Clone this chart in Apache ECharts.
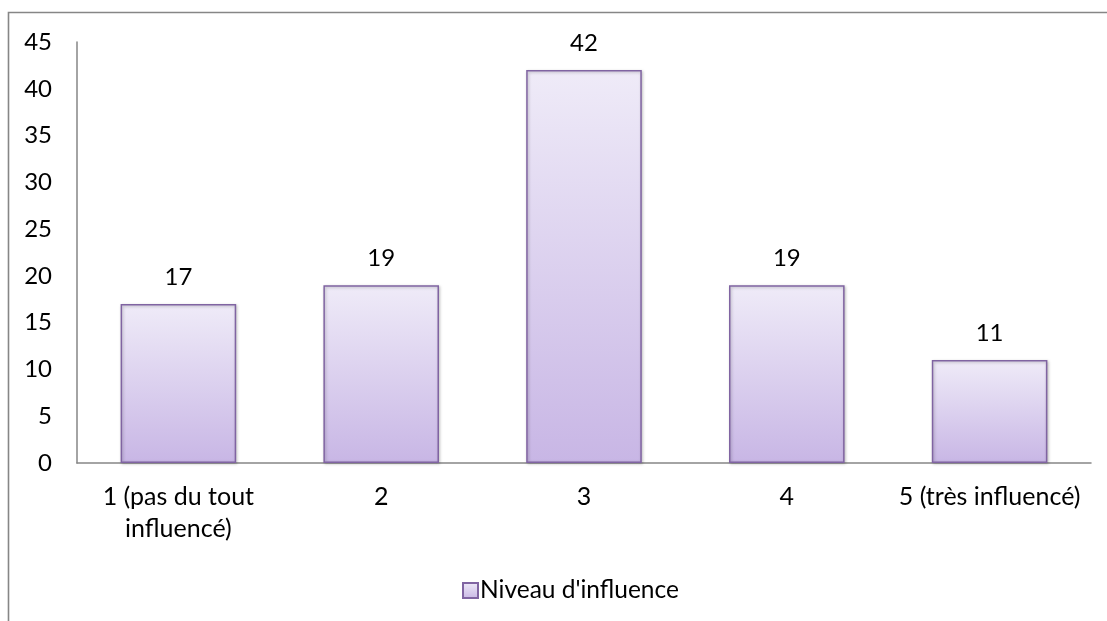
<!DOCTYPE html>
<html>
<head>
<meta charset="utf-8">
<script src="https://cdn.jsdelivr.net/npm/echarts@6/dist/echarts.min.js"></script>
<style>
  html, body { margin: 0; padding: 0; background: #fff; }
  #chart { width: 1107px; height: 621px; }
</style>
</head>
<body>
<div id="chart"></div>
<script>
// Influence level survey: number of answers per level
const categories = ['1 (pas du tout\ninfluencé)', '2', '3', '4', '5 (très influencé)'];
const counts = [17, 19, 42, 19, 11];
const seriesName = "Niveau d'influence";

const FONT = 'Lato, "Open Sans", sans-serif';
const FONT_SIZE = 24;
const AXIS_GREY = '#868686';

const barFill = new echarts.graphic.LinearGradient(0, 0, 0, 1, [
  { offset: 0, color: '#efebf8' },
  { offset: 1, color: '#c8b6e5' }
]);

const chart = echarts.init(document.getElementById('chart'), null, { renderer: 'canvas' });
chart.setOption({
  animation: false,
  backgroundColor: '#ffffff',
  textStyle: { fontFamily: FONT, color: '#000' },
  grid: { left: 77, right: 16, top: 42, bottom: 158, containLabel: false },
  graphic: [{
    type: 'polyline',
    silent: true,
    shape: { points: [[8.5, 640], [8.5, 12.5], [1120, 12.5]] },
    style: { stroke: AXIS_GREY, lineWidth: 1.6, fill: null }
  }],
  legend: {
    left: 457,
    top: 573,
    itemWidth: 15,
    itemHeight: 15,
    itemGap: 6,
    icon: 'rect',
    textStyle: { fontFamily: FONT, fontSize: 24.5, color: '#000', padding: [0, 0, 0, -3] },
    data: [seriesName]
  },
  xAxis: {
    type: 'category',
    data: categories,
    axisLine: { lineStyle: { color: AXIS_GREY, width: 1.5 } },
    axisTick: { show: false },
    axisLabel: {
      interval: 0,
      hideOverlap: false,
      fontFamily: FONT,
      fontSize: 25,
      color: '#000',
      margin: 18,
      lineHeight: 32
    }
  },
  yAxis: {
    type: 'value',
    min: 0,
    max: 45,
    interval: 5,
    axisLine: { show: true, lineStyle: { color: AXIS_GREY, width: 1.5 } },
    axisTick: { show: false },
    splitLine: { show: false },
    axisLabel: { fontFamily: FONT, fontSize: FONT_SIZE, color: '#000', margin: 25 }
  },
  series: [{
    name: seriesName,
    type: 'bar',
    data: counts,
    barWidth: '57%',
    itemStyle: {
      color: barFill,
      borderColor: '#8064a2',
      borderWidth: 1.5,
      shadowColor: 'rgba(0,0,0,0.25)',
      shadowBlur: 3,
      shadowOffsetX: 1,
      shadowOffsetY: 1
    },
    label: {
      show: true,
      position: 'top',
      distance: 15,
      fontFamily: FONT,
      fontSize: FONT_SIZE,
      color: '#000'
    }
  }]
});
</script>
</body>
</html>
